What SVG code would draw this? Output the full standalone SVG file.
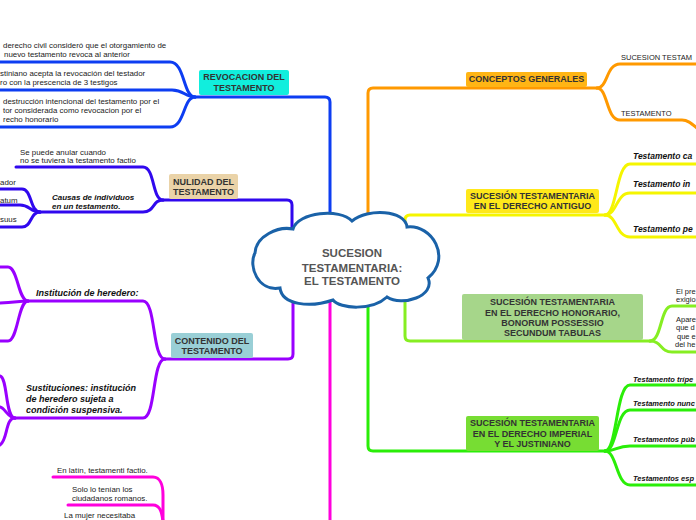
<svg xmlns="http://www.w3.org/2000/svg" width="696" height="520" viewBox="0 0 696 520">
<style>
.ln{fill:none;stroke-width:3;stroke-linecap:round;stroke-linejoin:round}
.nt{font-family:"Liberation Sans",Arial,sans-serif;font-weight:bold;font-size:9px;fill:#333;text-anchor:middle}
.sm{font-family:"Liberation Sans",Arial,sans-serif;font-size:7.5px;fill:#222}
.sl{font-family:"Liberation Sans",Arial,sans-serif;font-size:7.9px;fill:#222}
.bi{font-family:"Liberation Sans",Arial,sans-serif;font-size:8.5px;font-weight:bold;font-style:italic;fill:#111}
.ct{font-family:"Liberation Sans",Arial,sans-serif;font-weight:bold;font-size:11.5px;fill:#555;text-anchor:middle}
</style>
<rect width="696" height="520" fill="#fff"/>
<g id="connectors">
<g stroke="#0d3df2" class="ln">
<path d="M195,97 H325 Q330,97 330,102 V265"/>
<path d="M195,97 C183,97 185,62 170,62 H0"/>
<path d="M195,97 C185,97 184,90 172,90 H0"/>
<path d="M195,97 C183,97 185,127 170,127 H0"/>
</g>
<g stroke="#3008ee" class="ln">
<path d="M163,200 H287 Q292,200 292,205 V245"/>
<path d="M163,200 C152,200 155,167 143,167 H16"/>
<path d="M163,200 C152,200 155,212 143,212 H40"/>
<path d="M40,212 C30,212 32,189 22,189 H0"/>
<path d="M40,212 C30,212 30,205 20,205 H0"/>
<path d="M40,212 C30,212 32,227 22,227 H0"/>
</g>
<g stroke="#9900ff" class="ln">
<path d="M165,359 H288 Q293,359 293,354 V280"/>
<path d="M165,359 C152,359 156,301 143,301 H28"/>
<path d="M165,359 C152,359 156,418 143,418 H15"/>
<path d="M28,301 C18,301 18,267 8,267 H0"/>
<path d="M28,301 C18,301 15,303 0,303"/>
<path d="M28,301 C18,301 18,341 8,341 H0"/>
<path d="M15,418 C5,418 8,378 0,376"/>
<path d="M15,418 C8,418 5,408 0,407"/>
<path d="M15,418 C5,418 8,440 0,445"/>
</g>
<g stroke="#ff00dd" class="ln">
<path d="M330,280 V522"/>
<path d="M53,477 H153 C160,477 163,485 163,495 V522"/>
<path d="M68,505 H153 C160,505 162,512 163,522"/>
</g>
<g stroke="#ff9900" class="ln">
<path d="M597,88 H373 Q368,88 368,93 V250"/>
<path d="M597,88 C608,88 606,64 620,64 H698"/>
<path d="M597,88 C608,88 606,120 620,120 H682 C688,120 692,124 698,129"/>
</g>
<g stroke="#f5f500" class="ln">
<path d="M605,215 H410 Q405,215 405,220 V250"/>
<path d="M605,215 C617,215 616,164 630,164 H698"/>
<path d="M605,215 C617,215 616,193 630,193 H698"/>
<path d="M605,215 C617,215 616,237 630,237 H698"/>
</g>
<g stroke="#86ee22" class="ln">
<path d="M650,341 H410 Q405,341 405,336 V280"/>
<path d="M650,341 C662,341 660,306 672,306 H698"/>
<path d="M650,341 C662,341 660,352 672,352 H698"/>
</g>
<g stroke="#2aee08" class="ln">
<path d="M605,451 H373 Q368,451 368,446 V280"/>
<path d="M605,451 C617,451 616,385 630,385 H698"/>
<path d="M605,451 C617,451 616,410 630,410 H698"/>
<path d="M605,451 C617,451 616,446 630,446 H698"/>
<path d="M605,451 C617,451 616,485 630,485 H698"/>
</g>
</g>
<g id="center">
<path d="M255,253 C256,236 278,226 293,229 C298,212 340,208 352,221 C368,208 405,210 407,227 C432,224 452,258 428,278 C436,296 402,307 387,297 C372,311 340,309 333,300 C310,308 282,305 280,288 C258,292 248,266 255,253 Z" fill="#fff" stroke="#1a62a8" stroke-width="3"/>
<text class="ct" x="352" y="257">SUCESION</text>
<text class="ct" x="352" y="271.5">TESTAMENTARIA:</text>
<text class="ct" x="352" y="285">EL TESTAMENTO</text>
</g>
<g id="revocacion">
<rect x="199" y="70" width="90" height="25" rx="2" fill="#11eedd"/>
<text class="nt" x="244" y="80">REVOCACION DEL</text>
<text class="nt" x="244" y="90.5">TESTAMENTO</text>
</g>
<g id="revocacion-items">
<text class="sl" x="3" y="47.5">derecho civil consideró que el otorgamiento de</text>
<text class="sl" x="4" y="56.5">nuevo  testamento revoca al anterior</text>
<text class="sl" x="0" y="75.5">stiniano acepta  la revocación del testador</text>
<text class="sl" x="0" y="84.5">ro con la prescencia  de 3 testigos</text>
<text class="sl" x="3" y="104">destrucción intencional del testamento por el</text>
<text class="sl" x="3" y="113">tor considerada como revocacion por el</text>
<text class="sl" x="3" y="122">recho honorario</text>
</g>
<g id="nulidad">
<rect x="169" y="174" width="69" height="25" rx="2" fill="#ead3a8"/>
<text class="nt" x="203.5" y="185">NULIDAD DEL</text>
<text class="nt" x="203.5" y="195">TESTAMENTO</text>
</g>
<g id="nulidad-items">
<text class="sl" x="20" y="154.5">Se puede anular cuando</text>
<text class="sl" x="20" y="163">no se tuviera la testamento factio</text>
<text class="bi" x="52" y="199.5" style="font-size:8px">Causas de individuos</text>
<text class="bi" x="52" y="208.5" style="font-size:8px">en un testamento.</text>
<text class="sl" x="0" y="184.5">ador</text>
<text class="sl" x="0" y="203">atum</text>
<text class="sl" x="0" y="222">suus</text>
</g>
<g id="contenido">
<rect x="171" y="333" width="82" height="25" rx="2" fill="#99cfd6"/>
<text class="nt" x="212" y="344">CONTENIDO DEL</text>
<text class="nt" x="212" y="353.5">TESTAMENTO</text>
</g>
<g id="contenido-items">
<text class="bi" x="36" y="296" style="font-size:9px">Institución de heredero:</text>
<text class="bi" x="26" y="391" style="font-size:9px">Sustituciones: institución</text>
<text class="bi" x="26" y="402" style="font-size:9px">de heredero sujeta a</text>
<text class="bi" x="26" y="413" style="font-size:9px">condición suspensiva.</text>
</g>
<g id="capacidad-items">
<text class="sl" x="57" y="472.5">En latín, testamenti factio.</text>
<text class="sl" x="72" y="491.5">Solo lo tenían los</text>
<text class="sl" x="72" y="500.5">ciudadanos romanos.</text>
<text class="sl" x="64" y="517.5">La mujer necesitaba</text>
</g>
<g id="conceptos">
<rect x="466" y="72" width="121" height="15" rx="2" fill="#ffb515"/>
<text class="nt" x="526.5" y="81.5">CONCEPTOS GENERALES</text>
<text class="sm" x="621" y="59.5">SUCESION TESTAM</text>
<text class="sm" x="621" y="115.5">TESTAMENTO</text>
</g>
<g id="antiguo">
<rect x="466" y="189" width="133" height="24" rx="2" fill="#ffe81a"/>
<text class="nt" x="532.5" y="198.5">SUCESIÓN TESTAMENTARIA</text>
<text class="nt" x="532.5" y="208.5">EN EL DERECHO ANTIGUO</text>
<text class="bi" x="633" y="159">Testamento ca</text>
<text class="bi" x="633" y="187">Testamento in</text>
<text class="bi" x="633" y="232">Testamento pe</text>
</g>
<g id="honorario">
<rect x="462" y="294" width="181" height="46" rx="2" fill="#a6d68a"/>
<text class="nt" x="552.5" y="305">SUCESIÓN TESTAMENTARIA</text>
<text class="nt" x="552.5" y="315.5">EN EL DERECHO HONORARIO,</text>
<text class="nt" x="552.5" y="326">BONORUM POSSESSIO</text>
<text class="nt" x="552.5" y="335.5">SECUNDUM TABULAS</text>
<text class="sm" x="676" y="293.5">El pre</text>
<text class="sm" x="676" y="301.5">exigio</text>
<text class="sm" x="676" y="321.5">Apare</text>
<text class="sm" x="676" y="330">que d</text>
<text class="sm" x="677" y="338.5">que e</text>
<text class="sm" x="675" y="347">del he</text>
</g>
<g id="imperial">
<rect x="466" y="416" width="133" height="35" rx="2" fill="#77dd33"/>
<text class="nt" x="532.5" y="426">SUCESIÓN TESTAMENTARIA</text>
<text class="nt" x="532.5" y="436.5">EN EL DERECHO IMPERIAL</text>
<text class="nt" x="532.5" y="446.5">Y EL JUSTINIANO</text>
<text class="bi" x="633" y="381.5" style="font-size:7.5px">Testamento trípe</text>
<text class="bi" x="633" y="405.5" style="font-size:7.5px">Testamento nunc</text>
<text class="bi" x="633" y="441.5" style="font-size:7.5px">Testamentos púb</text>
<text class="bi" x="633" y="480.5" style="font-size:7.5px">Testamentos esp</text>
</g>
</svg>
